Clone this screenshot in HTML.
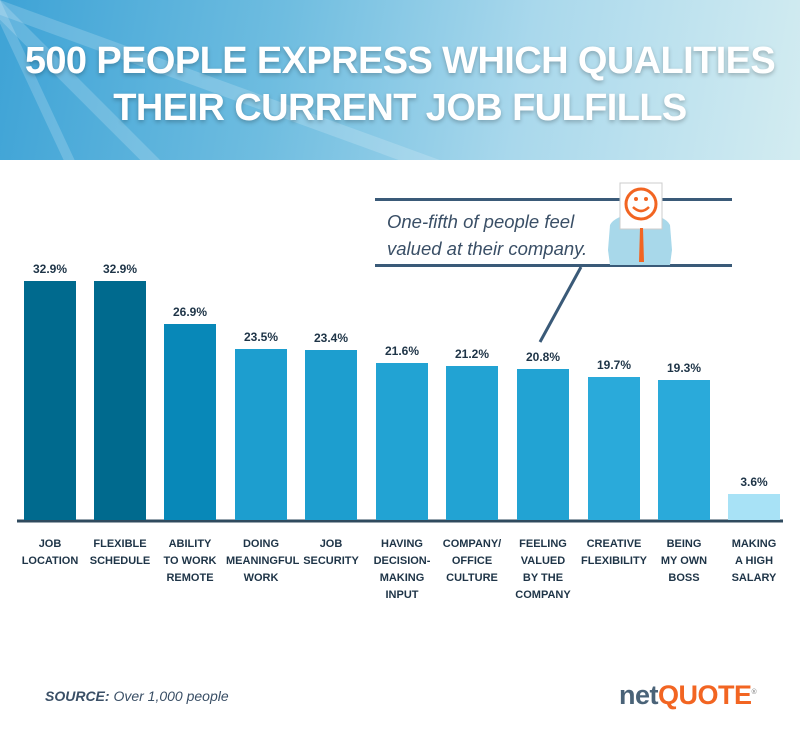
<!DOCTYPE html>
<html><head><meta charset="utf-8"><style>
body{margin:0;width:800px;height:735px;background:#fff;font-family:"Liberation Sans",sans-serif;position:relative;overflow:hidden}
.hdr{position:absolute;left:0;top:0;width:800px;height:160px;background:linear-gradient(100deg,#3ea3d6 0%,#6fbde0 35%,#a9d8ec 65%,#d3ecf1 100%)}
.ray{position:absolute;background:rgba(255,255,255,.18);transform-origin:0 0}
.t{position:absolute;left:0;width:800px;text-align:center;color:#fff;font-weight:bold;font-size:38px;letter-spacing:-0.6px;text-shadow:0 2px 4px rgba(0,0,0,.25)}
.bar{position:absolute;width:52px}
.v{position:absolute;width:70px;text-align:center;font-weight:bold;font-size:12px;color:#1e3447}
.l{position:absolute;width:70px;text-align:center;font-weight:bold;font-size:11px;line-height:17px;color:#1e3447}
</style></head><body>
<div class="hdr">
<div class="ray" style="left:0;top:0;width:600px;height:14px;transform:rotate(20deg)"></div>
<div class="ray" style="left:0;top:0;width:600px;height:14px;transform:rotate(45deg)"></div>
<div class="ray" style="left:0;top:0;width:600px;height:10px;transform:rotate(65deg)"></div>
<div class="t" style="top:40px">500 PEOPLE EXPRESS WHICH QUALITIES</div>
<div class="t" style="top:87px">THEIR CURRENT JOB FULFILLS</div>
</div>
<div style="position:absolute;left:375px;top:198px;width:357px;height:3px;background:#3a5a78"></div>
<div style="position:absolute;left:375px;top:264px;width:357px;height:3px;background:#3a5a78"></div>
<div style="position:absolute;left:387px;top:208px;font-style:italic;font-size:18.5px;line-height:27px;color:#3a4f66">One-fifth of people feel<br>valued at their company.</div>
<svg style="position:absolute;left:0;top:0" width="800" height="735">
<line x1="581" y1="267" x2="540" y2="342" stroke="#3a5a78" stroke-width="3"/>
<path d="M608 250 L610 225 Q615 215 640 213 Q665 215 670 225 L672 250 L670 265 L610 265Z" fill="#a8d8ea"/>
<rect x="620" y="183" width="42" height="46" fill="#fff" stroke="#ccc"/>
<circle cx="641" cy="204" r="15" fill="none" stroke="#f26522" stroke-width="3"/>
<circle cx="636" cy="199" r="2" fill="#f26522"/><circle cx="646" cy="199" r="2" fill="#f26522"/>
<path d="M633 207 Q641 215 649 207" fill="none" stroke="#f26522" stroke-width="2.5"/>
<path d="M640 228 L643 228 L644 262 L639 262Z" fill="#f26522"/>
<line x1="17" y1="521" x2="783" y2="521" stroke="#2f4a5e" stroke-width="3"/>
</svg>
<div class="bar" style="left:24px;top:281px;height:239px;background:#006a8e"></div>
<div class="bar" style="left:94px;top:281px;height:239px;background:#006a8e"></div>
<div class="bar" style="left:164px;top:324px;height:196px;background:#0888b8"></div>
<div class="bar" style="left:235px;top:349px;height:171px;background:#1d9ecf"></div>
<div class="bar" style="left:305px;top:350px;height:170px;background:#1d9ecf"></div>
<div class="bar" style="left:376px;top:363px;height:157px;background:#22a3d3"></div>
<div class="bar" style="left:446px;top:366px;height:154px;background:#22a3d3"></div>
<div class="bar" style="left:517px;top:369px;height:151px;background:#22a3d3"></div>
<div class="bar" style="left:588px;top:377px;height:143px;background:#2aaada"></div>
<div class="bar" style="left:658px;top:380px;height:140px;background:#2aaada"></div>
<div class="bar" style="left:728px;top:494px;height:26px;background:#a8e2f6"></div>
<div class="v" style="left:15px;top:262px">32.9%</div>
<div class="v" style="left:85px;top:262px">32.9%</div>
<div class="v" style="left:155px;top:305px">26.9%</div>
<div class="v" style="left:226px;top:330px">23.5%</div>
<div class="v" style="left:296px;top:331px">23.4%</div>
<div class="v" style="left:367px;top:344px">21.6%</div>
<div class="v" style="left:437px;top:347px">21.2%</div>
<div class="v" style="left:508px;top:350px">20.8%</div>
<div class="v" style="left:579px;top:358px">19.7%</div>
<div class="v" style="left:649px;top:361px">19.3%</div>
<div class="v" style="left:719px;top:475px">3.6%</div>
<div class="l" style="left:15px;top:536px">JOB<br>LOCATION</div>
<div class="l" style="left:85px;top:536px">FLEXIBLE<br>SCHEDULE</div>
<div class="l" style="left:155px;top:536px">ABILITY<br>TO WORK<br>REMOTE</div>
<div class="l" style="left:226px;top:536px">DOING<br>MEANINGFUL<br>WORK</div>
<div class="l" style="left:296px;top:536px">JOB<br>SECURITY</div>
<div class="l" style="left:367px;top:536px">HAVING<br>DECISION-<br>MAKING<br>INPUT</div>
<div class="l" style="left:437px;top:536px">COMPANY/<br>OFFICE<br>CULTURE</div>
<div class="l" style="left:508px;top:536px">FEELING<br>VALUED<br>BY THE<br>COMPANY</div>
<div class="l" style="left:579px;top:536px">CREATIVE<br>FLEXIBILITY</div>
<div class="l" style="left:649px;top:536px">BEING<br>MY OWN<br>BOSS</div>
<div class="l" style="left:719px;top:536px">MAKING<br>A HIGH<br>SALARY</div>
<div style="position:absolute;left:45px;top:688px;font-style:italic;font-weight:bold;font-size:14px;color:#3a4f66">SOURCE: <span style="font-weight:normal">Over 1,000 people</span></div>
<div style="position:absolute;left:619px;top:680px;font-size:27px;font-weight:bold;letter-spacing:-0.5px"><span style="color:#4a6378">net</span><span style="color:#f26522">QUOTE</span><sup style="font-size:7px;color:#999">®</sup></div>
</body></html>
